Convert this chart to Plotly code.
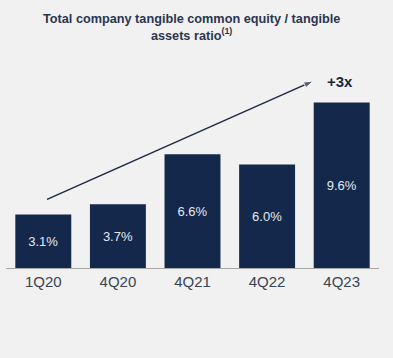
import plotly.graph_objects as go

categories = ["1Q20", "4Q20", "4Q21", "4Q22", "4Q23"]
values = [3.1, 3.7, 6.6, 6.0, 9.6]
value_labels = ["3.1%", "3.7%", "6.6%", "6.0%", "9.6%"]

arrow_x = [0.05, 3.62]
arrow_y = [3.98, 10.84]
arrow_label = "+3x"

title_text = "<b>Total company tangible common equity / tangible<br>assets ratio<sup>(1)</sup></b>"

BAR = "#13284b"
BG = "#f1f1f1"
INK = "#1b2740"
FONT = "Liberation Sans, Arial, sans-serif"

positions = list(range(len(categories)))

fig = go.Figure()
fig.add_trace(go.Bar(
    x=positions, y=values, text=value_labels,
    textposition="inside", insidetextanchor="middle",
    textfont=dict(color="#e6e9ef", size=13, family=FONT),
    marker=dict(color=BAR, line=dict(width=0)),
    width=0.75, hoverinfo="skip",
))

fig.add_trace(go.Scatter(
    x=arrow_x, y=arrow_y, mode="lines+markers",
    line=dict(color=INK, width=1.4),
    marker=dict(symbol="arrow", angleref="previous", size=[0, 10], color=INK),
    hoverinfo="skip",
))

fig.add_annotation(
    x=arrow_x[-1], y=arrow_y[-1], xref="x", yref="y",
    text="<b>" + arrow_label + "</b>", showarrow=False,
    xanchor="left", yanchor="middle", xshift=12, yshift=0,
    font=dict(size=15, color=INK, family=FONT),
)
fig.add_annotation(
    x=0.498, y=1.0, xref="paper", yref="paper", yanchor="bottom", yshift=16,
    text=title_text, showarrow=False, align="center",
    font=dict(size=12.7, color="#2a3550", family=FONT),
)

fig.update_layout(
    width=393, height=358,
    margin=dict(l=6, r=14, t=61, b=90),
    paper_bgcolor=BG, plot_bgcolor=BG,
    showlegend=False,
    font=dict(family=FONT),
)
fig.update_xaxes(
    showline=True, linecolor="#a6a6a6", linewidth=1,
    showgrid=False, zeroline=False, ticks="",
    tickmode="array", tickvals=positions, ticktext=categories,
    tickfont=dict(size=15, color="#3a4352", family=FONT),
    range=[-0.5, 4.5], fixedrange=True,
)
fig.update_yaxes(
    range=[0, 12], visible=False, showgrid=False, zeroline=False, fixedrange=True,
)

fig.write_html("out.html", config={"displayModeBar": False})
